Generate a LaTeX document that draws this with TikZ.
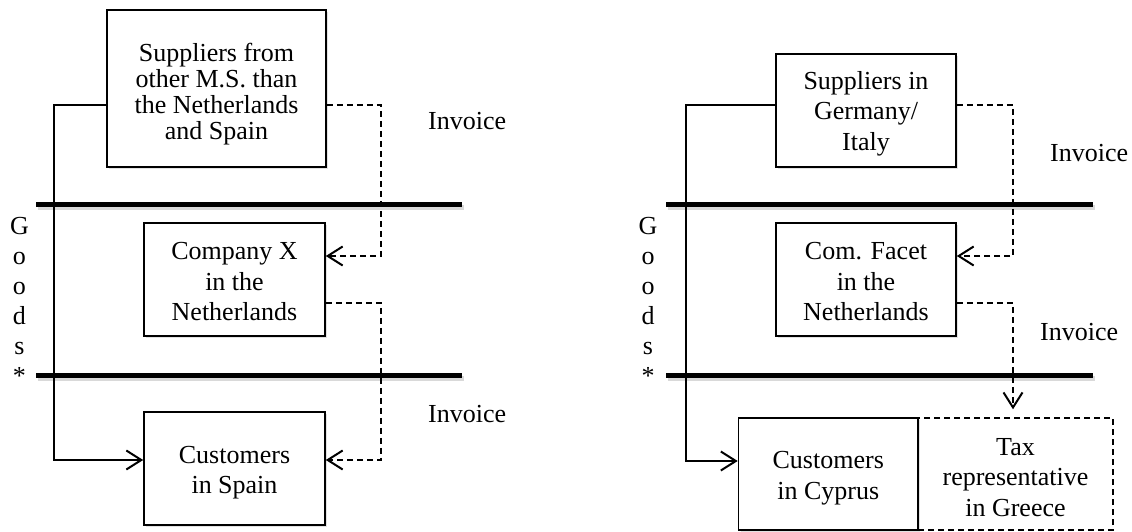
\documentclass[tikz,border=0pt]{standalone}
\usepackage{fontspec}
\setmainfont{Liberation Serif}
\usetikzlibrary{arrows.meta,shadows}
\newcommand{\upstrut}[1]{\rule{0pt}{#1}}
\tikzset{
  box/.style={draw, line width=1.6pt, fill=white, align=center, inner sep=0pt,
    font=\fontsize{26}{30.5}\selectfont,
    drop shadow={shadow xshift=2pt, shadow yshift=-2pt, fill=black!22}},
  dbox/.style={draw, dashed, line width=1.4pt, dash pattern=on 6pt off 4pt, align=center, inner sep=0pt,
    font=\fontsize{26}{30.5}\selectfont},
  lbl/.style={inner sep=0pt, font=\fontsize{26}{30}\selectfont},
  sepline/.style={line width=5pt},
  sepshadow/.style={line width=5pt, black!15},
  tipstyle/.style={-{Straight Barb[length=15pt,width=19pt,line width=2pt]}},
  goods/.style={line width=1.4pt, tipstyle},
  inv/.style={line width=1.5pt, dash pattern=on 6pt off 4pt, tipstyle},
}
\begin{document}
\begin{tikzpicture}[x=1pt,y=-1pt]
\useasboundingbox[fill=white] (0,0) rectangle (1132,532);

% ---------- separator lines ----------
\draw[sepshadow] (38,207) -- (464,207);
\draw[sepshadow] (38,378) -- (464,378);
\draw[sepshadow] (668,207) -- (1095,207);
\draw[sepshadow] (668,378) -- (1095,378);
\draw[sepline] (36,204) -- (462,204);
\draw[sepline] (36,375) -- (462,375);
\draw[sepline] (666,204) -- (1093,204);
\draw[sepline] (666,375) -- (1093,375);

% ---------- left panel ----------
\node[box, minimum width=219pt, minimum height=157pt, font=\fontsize{26}{26}\selectfont]
  (supL) at (216.5,88.5) {\upstrut{30pt}Suppliers from\\other M.S. than\\the Netherlands\\and Spain};
\node[box, minimum width=181pt, minimum height=113pt] (coL) at (234.5,279.5) {\upstrut{22pt}Company X\\in the\\Netherlands};
\node[box, minimum width=181pt, minimum height=113pt] (custL) at (234.5,468.5) {\upstrut{26pt}Customers\\in Spain};

\node[lbl, align=center, anchor=north] (goodsL) at (19.5,217) {G\\o\\o\\d\\s\\*};
\node[lbl, anchor=west] (invL1) at (428,121) {Invoice};
\node[lbl, anchor=west] (invL2) at (428,414) {Invoice};

\coordinate (gL1) at (54,105);
\coordinate (gL2) at (54,460);
\draw[goods] (supL.west |- gL1) -- (gL1) -- (gL2) -- (custL.west |- gL2);

\coordinate (iL1) at (381,105);
\coordinate (iL2) at (381,256);
\coordinate (iL3) at (381,303);
\coordinate (iL4) at (381,460);
\draw[inv] (supL.east |- iL1) -- (iL1) -- (iL2) -- (coL.east |- iL2);
\draw[inv] (coL.east |- iL3) -- (iL3) -- (iL4) -- (custL.east |- iL4);

% ---------- right panel ----------
\node[box, minimum width=180pt, minimum height=113pt] (supR) at (866,110.5) {\upstrut{24pt}Suppliers in\\Germany/\\Italy};
\node[box, minimum width=180pt, minimum height=113pt] (comR) at (866,279.5) {\upstrut{22pt}Com. Facet\\in the\\Netherlands};
\node[box, minimum width=179.5pt, minimum height=112pt] (custR) at (828.25,474) {\upstrut{26pt}Customers\\in Cyprus};
\node[dbox, minimum width=195pt, minimum height=112pt] (taxR) at (1015.5,474) {\upstrut{24pt}Tax\\representative\\in Greece};

\node[lbl, align=center, anchor=north] (goodsR) at (648,217) {G\\o\\o\\d\\s\\*};
\node[lbl, anchor=west] (invR1) at (1050,153) {Invoice};
\node[lbl, anchor=west] (invR2) at (1040,332) {Invoice};

\coordinate (gR1) at (686,105);
\coordinate (gR2) at (686,461);
\draw[goods] (supR.west |- gR1) -- (gR1) -- (gR2) -- (custR.west |- gR2);

\coordinate (iR1) at (1013,105);
\coordinate (iR2) at (1013,256);
\coordinate (iR3) at (1013,303);
\draw[inv] (supR.east |- iR1) -- (iR1) -- (iR2) -- (comR.east |- iR2);
\draw[inv, shorten >=8pt] (comR.east |- iR3) -- (iR3) -- (iR3 |- taxR.north);
\end{tikzpicture}
\end{document}
